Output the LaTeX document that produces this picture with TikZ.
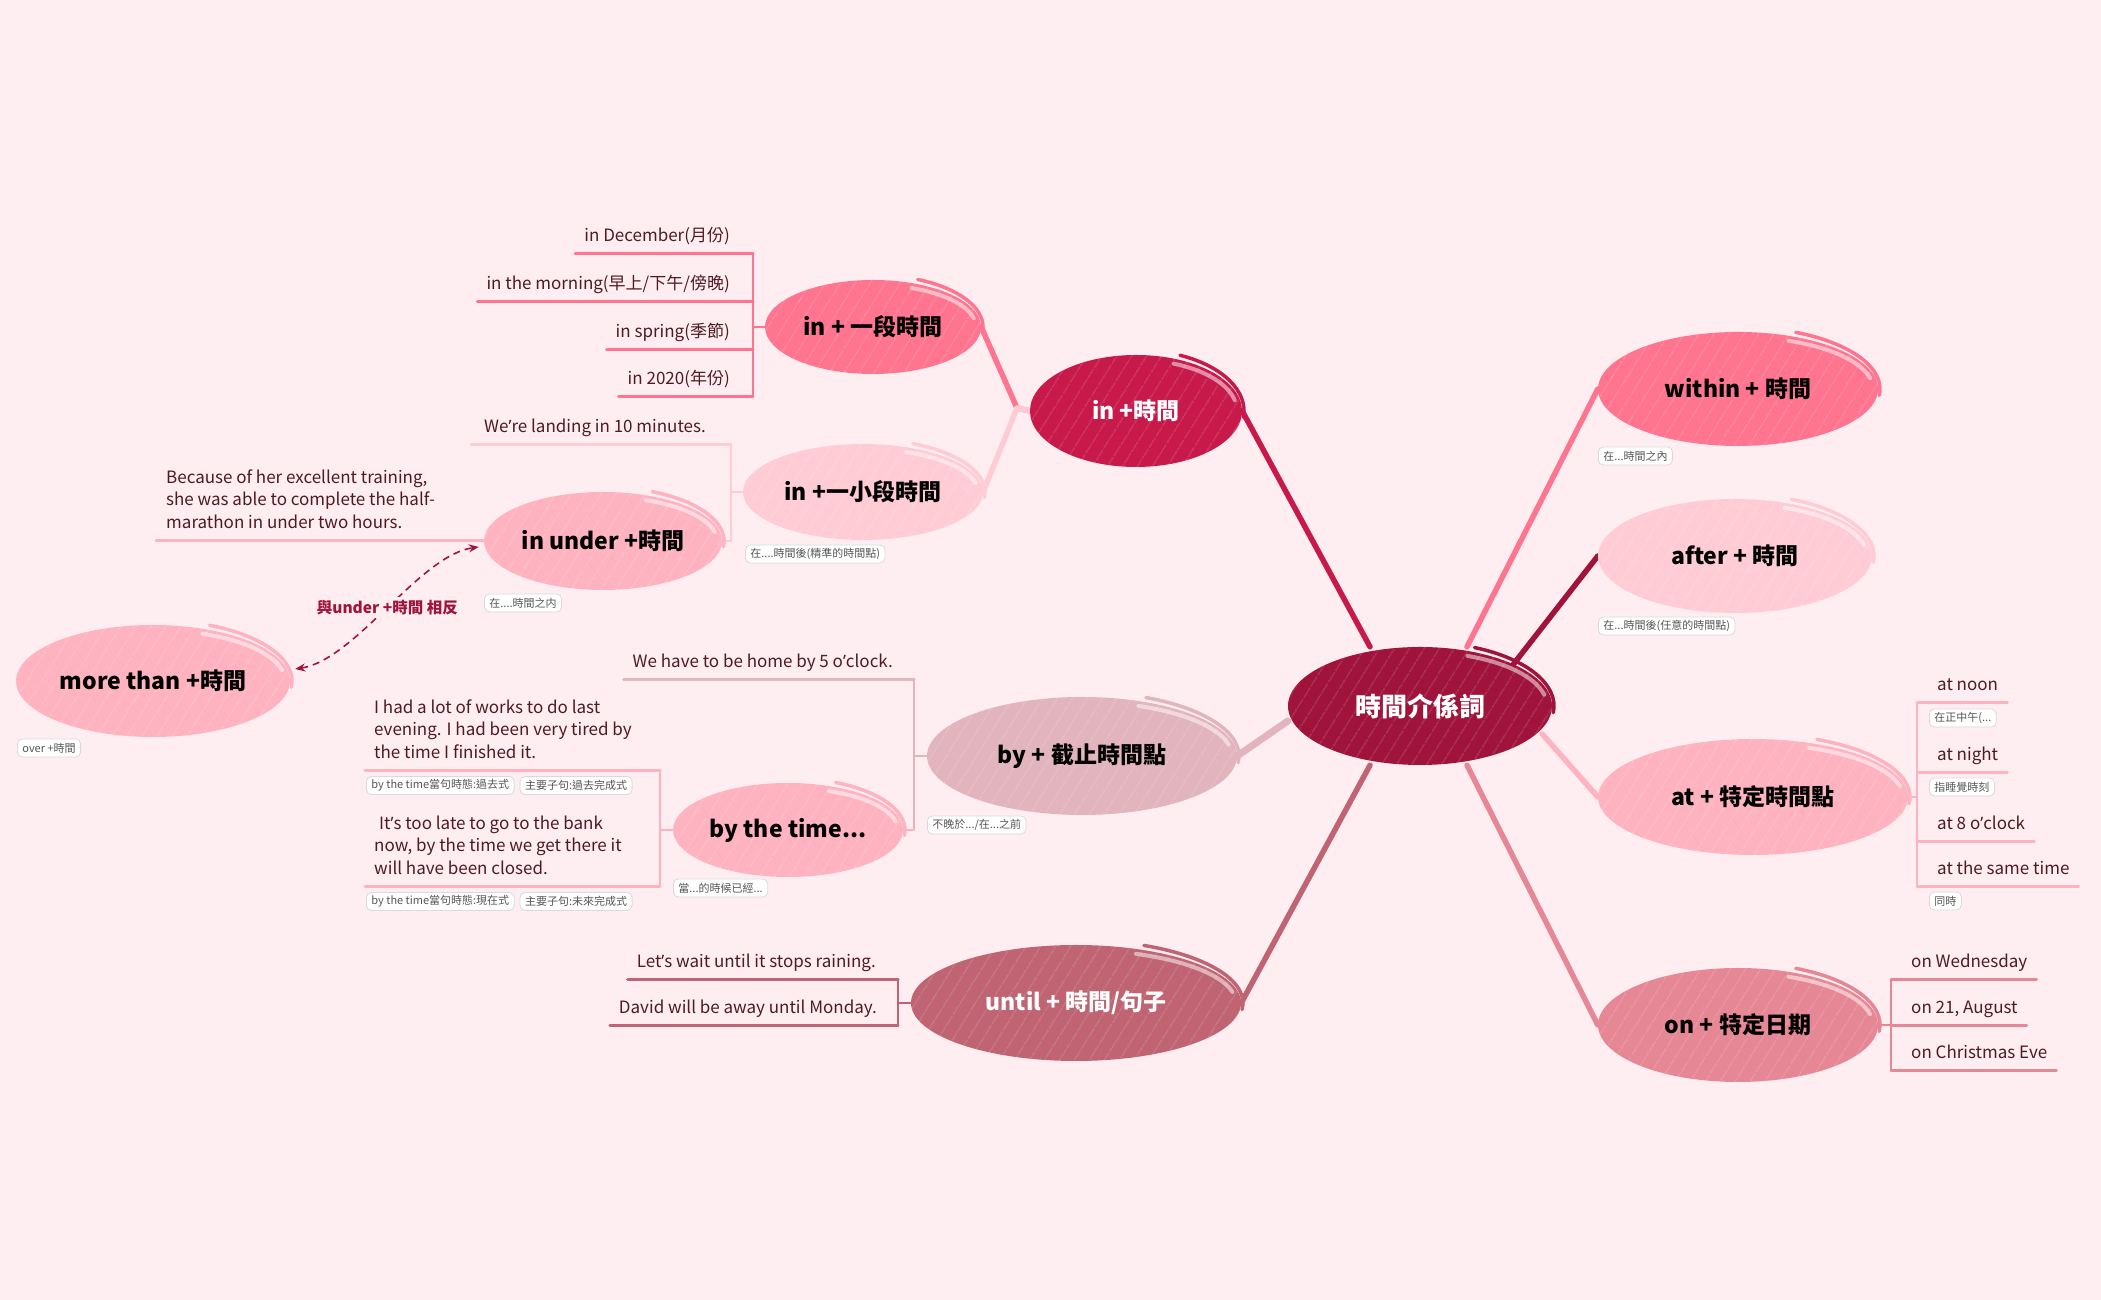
\documentclass[tikz,border=0pt]{standalone}
\usepackage{fontspec}
\setmainfont{Noto Sans CJK TC}
\newfontfamily\latinf{Noto Sans}
\newcommand{\apo}{{\latinf ’}}
\usetikzlibrary{shapes.geometric,patterns.meta,arrows.meta,calc}
\definecolor{bg}{HTML}{FFEEF1}
\definecolor{crim}{HTML}{A0143C}
\definecolor{cin}{HTML}{C8194B}
\definecolor{pkA}{HTML}{FF7590}
\definecolor{pkB}{HTML}{FFCCD5}
\definecolor{pkC}{HTML}{FFB3C1}
\definecolor{mauve}{HTML}{E2B4BE}
\definecolor{rose}{HTML}{C06473}
\definecolor{roseB}{HTML}{E68796}
\definecolor{leafc}{HTML}{4E1A24}
\definecolor{tagt}{HTML}{555555}
\definecolor{tagb}{HTML}{DADADA}
\pgfdeclarelayer{back}
\pgfdeclarelayer{lines}
\pgfsetlayers{back,lines,main}
\newcommand{\bub}[8]{%
  \fill[#6] (#2,#3) ellipse [x radius=#4, y radius=#5];
  \fill[pattern={Lines[angle=58,distance=13pt,line width=1pt]}, pattern color=white, fill opacity=0.22] (#2,#3) ellipse [x radius=#4, y radius=#5];
  \draw[white, opacity=0.5, line width=4, line cap=round] ({#2+(#4-5)*cos(68)},{#3+(#5-5)*sin(68)}) arc[start angle=68, end angle=12, x radius={#4-5}, y radius={#5-5}];
  \draw[#6, line width=3.5, line cap=round] ({#2+(#4+2)*cos(66)},{#3+(#5+5)*sin(66)}) arc[start angle=66, end angle=-6, x radius={#4+2}, y radius={#5+5}];
  \node[bubble, minimum width={2*#4}, minimum height={2*#5}, text=#7] (#1) at (#2,#3) {#8};
}
\begin{document}
\begin{tikzpicture}[x=1pt,y=1pt,
  bubble/.style={ellipse, inner sep=0, font=\bfseries\fontsize{23}{27}\selectfont},
  leaf/.style={font=\fontsize{17}{22.5}\selectfont, text=leafc, inner xsep=0, inner ysep=6, align=left, execute at end node=\strut},
  tagbox/.style={draw=tagb, fill=white, rounded corners=5, line width=0.8, font=\fontsize{11}{13}\selectfont, text=tagt, inner xsep=5, inner ysep=2, minimum height=18, anchor=west},
  uline/.style={line width=3, line cap=round},
  brk/.style={line width=2.5},
  conn/.style={line width=5.5, line cap=round, line join=round}]
\useasboundingbox (0,0) rectangle (2101,1300);
\begin{pgfonlayer}{back}
\fill[bg] (0,0) rectangle (2101,1300);
\end{pgfonlayer}

% bubbles
\bub{c}{1420}{594}{132}{59}{crim}{white}{\fontsize{26}{30}\selectfont 時間介係詞}
\bub{i1}{1136}{889}{106}{56}{cin}{white}{in +時間}
\bub{n1}{873}{973}{108}{47}{pkA}{black}{in + 一段時間}
\bub{n2}{863}{808}{120}{48}{pkB}{black}{in +一小段時間}
\bub{iu}{603}{759}{119}{49}{pkC}{black}{in under +時間}
\bub{mt}{153}{619}{137}{56}{pkC}{black}{more than +時間}
\bub{by}{1082}{544}{155}{59}{mauve}{black}{by + 截止時間點}
\bub{bt}{788}{470}{115}{47}{pkC}{black}{by the time...}
\bub{un}{1076}{297}{165}{58}{rose}{white}{until + 時間/句子}
\bub{wi}{1738}{911}{140}{57}{pkA}{black}{within + 時間}
\bub{af}{1735}{744}{137}{57}{pkB}{black}{after + 時間}
\bub{at}{1753}{503}{155}{58}{pkC}{black}{at + 特定時間點}
\bub{on}{1738}{275}{140}{57}{roseB}{black}{on + 特定日期}

% tags
\node[tagbox] (t1) at (745,746) {在....時間後(精準的時間點)};
\node[tagbox] (t2) at (484,697) {在....時間之内};
\node[tagbox] (t3) at (17,552) {over +時間};
\node[tagbox] (t4) at (927,475) {不晚於.../在...之前};
\node[tagbox] (t5) at (673,412) {當...的時候已經...};
\node[tagbox] (t6) at (1598,844) {在...時間之內};
\node[tagbox] (t7) at (1598,674) {在...時間後(任意的時間點)};
\node[tagbox] (t8) at (1929,582) {在正中午(...};
\node[tagbox] (t9) at (1929,513) {指睡覺時刻};
\node[tagbox] (t10) at (1929,399) {同時};
\node[tagbox] (t11) at (366,514.5) {by the time當句時態:過去式};
\node[tagbox] (t12) at ([xshift=5]t11.east) {主要子句:過去完成式};
\node[tagbox] (t13) at (366,398.5) {by the time當句時態:現在式};
\node[tagbox] (t14) at ([xshift=5]t13.east) {主要子句:未來完成式};

% leaves
\node[leaf, anchor=south east] (a1) at (730,1046) {in December(月份)};
\node[leaf, anchor=south east] (a2) at (730,998) {in the morning(早上/下午/傍晚)};
\node[leaf, anchor=south east] (a3) at (730,950) {in spring(季節)};
\node[leaf, anchor=south east] (a4) at (730,903) {in 2020(年份)};
\node[leaf, anchor=south east] (b1) at (706,855) {We\apo re landing in 10 minutes.};
\node[leaf, anchor=south west] (c1) at (166,759) {Because of her excellent training,\\she was able to complete the half-\\marathon in under two hours.};
\node[leaf, anchor=south east] (d1) at (893,620) {We have to be home by 5 o\apo clock.};
\node[leaf, anchor=south west] (e1) at (374,529) {I had a lot of works to do last\\evening. I had been very tired by\\the time I finished it.};
\node[leaf, anchor=south west] (e2) at (374,413) {\hspace{5pt}It\apo s too late to go to the bank\\now, by the time we get there it\\will have been closed.};
\node[leaf, anchor=south east] (f1) at (876,320) {Let\apo s wait until it stops raining.};
\node[leaf, anchor=south east] (f2) at (877,274) {David will be away until Monday.};
\node[leaf, anchor=south west] (g1) at (1937,597) {at noon};
\node[leaf, anchor=south west] (g2) at (1937,527) {at night};
\node[leaf, anchor=south west] (g3) at (1937,458) {at 8 o\apo clock};
\node[leaf, anchor=south west] (g4) at (1937,413) {at the same time};
\node[leaf, anchor=south west] (h1) at (1911,320) {on Wednesday};
\node[leaf, anchor=south west] (h2) at (1911,274) {on 21, August};
\node[leaf, anchor=south west] (h3) at (1911,229) {on Christmas Eve};

\coordinate (bA) at (753,0);
\coordinate (bB) at (731,0);
\coordinate (bD) at (914,0);
\coordinate (bE) at (660,0);
\coordinate (bF) at (898,0);
\coordinate (bG) at (1917,0);
\coordinate (bH) at (1891,0);
\coordinate (j1) at (1017,892);

\begin{pgfonlayer}{lines}
% main connectors
\draw[conn, cin] ([xshift=-50]c.north) -- (i1.east);
\draw[conn, pkA] ([xshift=47]c.north) -- (wi.west);
\draw[conn, crim] (c.north east) -- (af.west);
\draw[conn, pkC] ([shift={(-10,-28)}]c.east) -- (at.west);
\draw[conn, roseB] ([xshift=47]c.south) -- (on.west);
\draw[conn, rose] ([xshift=-50]c.south) -- (un.east);
\draw[conn, mauve, line width=7] ([yshift=-15]c.west) -- (by.east);
\draw[conn, pkA] (i1.west) -- (j1) -- (n1.east);
\draw[conn, pkB] (i1.west) -- (j1) -- (n2.east);
% group A
\foreach \n in {a1,a2,a3,a4}{\draw[uline, pkA] ([xshift=-9]\n.south west) -- (\n.south -| bA);}
\draw[brk, pkA] (a1.south -| bA) -- (a4.south -| bA);
\draw[brk, pkA] (n1.west -| bA) -- (n1.west);
% group B
\draw[uline, pkB] ([xshift=-13]b1.south west) -- (b1.south -| bB);
\draw[brk, pkB] (b1.south -| bB) -- (iu.east -| bB) -- (iu.east);
\draw[brk, pkB] (n2.west -| bB) -- (n2.west);
% group C
\draw[uline, pkC] ([xshift=-10]c1.south west) -- (iu.west |- c1.south);
% group D
\draw[uline, mauve] ([xshift=-9]d1.south west) -- (d1.south -| bD);
\draw[brk, mauve] (d1.south -| bD) -- (bt.east -| bD);
\draw[brk, pkC] (bt.east -| bD) -- (bt.east);
\draw[brk, mauve] (by.west -| bD) -- (by.west);
% group E
\foreach \n in {e1,e2}{\draw[uline, pkC] ([xshift=-9]\n.south west) -- (\n.south -| bE);}
\draw[brk, pkC] (e1.south -| bE) -- (e2.south -| bE);
\draw[brk, pkC] (bt.west -| bE) -- (bt.west);
% group F
\foreach \n in {f1,f2}{\draw[uline, rose] ([xshift=-9]\n.south west) -- (\n.south -| bF);}
\draw[brk, rose] (f1.south -| bF) -- (f2.south -| bF);
\draw[brk, rose] (un.west -| bF) -- (un.west);
% group G
\foreach \n in {g1,g2,g3,g4}{\draw[uline, pkC] (\n.south -| bG) -- ([xshift=9]\n.south east);}
\draw[brk, pkC] (g1.south -| bG) -- (g4.south -| bG);
\draw[brk, pkC] (at.east) -- (at.east -| bG);
% group H
\foreach \n in {h1,h2,h3}{\draw[uline, roseB] (\n.south -| bH) -- ([xshift=9]\n.south east);}
\draw[brk, roseB] (h1.south -| bH) -- (h3.south -| bH);
\draw[brk, roseB] (on.east) -- (on.east -| bH);
\end{pgfonlayer}

% relation
\draw[crim, line width=1.6, dash pattern=on 7pt off 5pt, {Stealth[length=10pt,width=8pt]}-{Stealth[length=10pt,width=8pt]}]
  ([shift={(5,12)}]mt.east) .. controls (355,640) and (420,745) ..
  node[pos=0.5, fill=bg, text=crim, font=\bfseries\fontsize{15.5}{18}\selectfont, inner sep=3] (rel) {與under +時間 相反}
  ([shift={(-5,-6)}]iu.west);
\end{tikzpicture}
\end{document}
